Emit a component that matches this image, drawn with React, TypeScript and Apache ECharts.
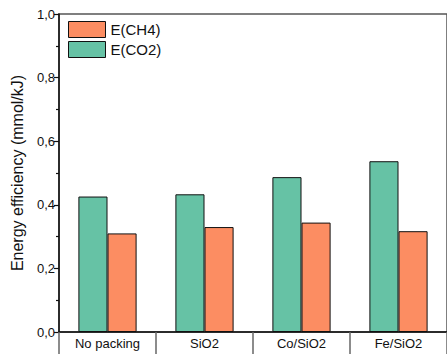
import React, { useEffect, useRef } from "react";
import * as echarts from "echarts";

const categories = ["No packing", "SiO2", "Co/SiO2", "Fe/SiO2"];
const eCO2 = [0.426, 0.433, 0.487, 0.537];
const eCH4 = [0.31, 0.33, 0.344, 0.317];
const legendNames = ["E(CH4)", "E(CO2)"];
const yTitle = "Energy efficiency (mmol/kJ)";

const FONT = "'Liberation Sans', Arial, Helvetica, sans-serif";

export default function App() {
  const ref = useRef<HTMLDivElement>(null);
  useEffect(() => {
    if (!ref.current) return;
    const chart = echarts.init(ref.current, undefined, { renderer: "svg" });
    chart.setOption({
      animation: false,
      backgroundColor: "#ffffff",
      textStyle: { fontFamily: FONT },
      grid: {
        left: 59,
        top: 14,
        right: -4,
        bottom: 22,
        show: true,
        borderColor: "#555",
        borderWidth: 1.5,
        backgroundColor: "transparent",
      },
      legend: {
        data: legendNames,
        orient: "vertical",
        left: 68,
        top: 21,
        padding: 0,
        itemWidth: 37,
        itemHeight: 16,
        itemGap: 3,
        textStyle: { fontSize: 15, color: "#111", fontFamily: FONT },
        icon: "path://M0,0H37V16H0Z",
        itemStyle: { borderColor: "#111", borderWidth: 1 },
      },
      xAxis: {
        type: "category",
        data: categories,
        axisLine: { show: true, lineStyle: { color: "#111", width: 1.5 } },
        axisTick: {
          show: true,
          length: 26,
          inside: false,
          lineStyle: { color: "#666", width: 1.5 },
        },
        axisLabel: { fontSize: 13, color: "#111", margin: 5, fontFamily: FONT },
      },
      yAxis: {
        type: "value",
        min: 0,
        max: 1,
        interval: 0.2,
        name: yTitle,
        nameLocation: "middle",
        nameGap: 34,
        nameTextStyle: { fontSize: 16, color: "#111", fontFamily: FONT },
        axisLine: { show: true, lineStyle: { color: "#111", width: 1.5 } },
        axisTick: { show: true, length: 5, lineStyle: { color: "#111", width: 1.2 } },
        minorTick: { show: true, splitNumber: 2, length: 3, lineStyle: { color: "#111", width: 1.2 } },
        splitLine: { show: false },
        axisLabel: {
          fontSize: 13,
          color: "#111",
          margin: 4,
          fontFamily: FONT,
          formatter: (v: number) => v.toFixed(1).replace(".", ","),
        },
      },
      series: [
        {
          name: "E(CO2)",
          type: "bar",
          data: eCO2,
          barGap: "0%",
          barCategoryGap: "40%",
          itemStyle: { color: "#66C2A5", borderColor: "#111", borderWidth: 1 },
        },
        {
          name: "E(CH4)",
          type: "bar",
          data: eCH4,
          barGap: "0%",
          barCategoryGap: "40%",
          itemStyle: { color: "#FC8D62", borderColor: "#111", borderWidth: 1 },
        },
      ],
    });
    return () => chart.dispose();
  }, []);
  return (
    <div
      ref={ref}
      style={{ position: "fixed", left: 0, top: 0, width: 447, height: 354 }}
    />
  );
}
